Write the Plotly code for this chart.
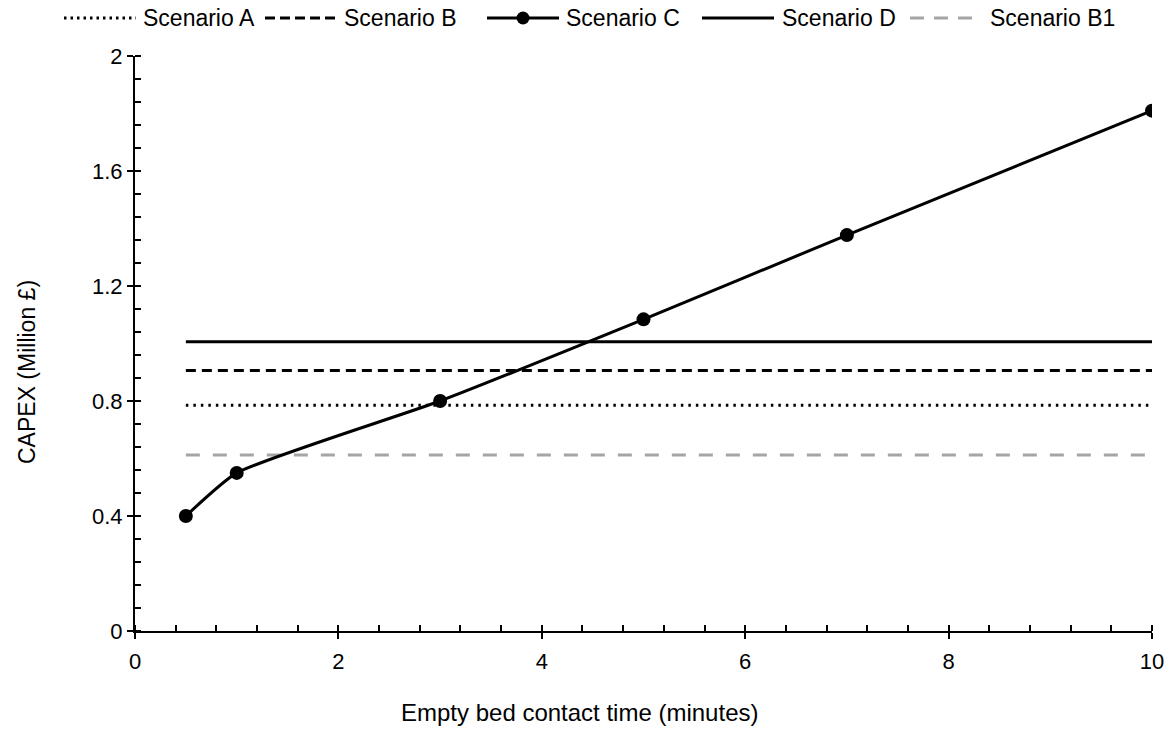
import plotly.graph_objects as go

# ---- data ----
ebct_c = [0.5, 1, 3, 5, 7, 10]
capex_c = [0.40, 0.55, 0.80, 1.084, 1.377, 1.81]
flat_x = [0.5, 10]
capex_a = 0.785
capex_b = 0.906
capex_d = 1.006
capex_b1 = 0.612

x_ticks = [0, 2, 4, 6, 8, 10]
y_ticks = [0, 0.4, 0.8, 1.2, 1.6, 2]
y_tick_text = ["0", "0.4", "0.8", "1.2", "1.6", "2"]

FONT = "Liberation Sans, Arial, sans-serif"
W, H = 1175, 737
L, R, T, B = 135, 23, 56, 106
PW, PH = W - L - R, H - T - B

def px(xp):
    return (xp - L) / PW

def py(yp):
    return (H - B - yp) / PH

fig = go.Figure()

fig.add_trace(go.Scatter(x=flat_x, y=[capex_b1] * 2, mode="lines", name="Scenario B1",
                         line=dict(color="#A5A5A5", width=3, dash="14px,13px"), showlegend=False))
fig.add_trace(go.Scatter(x=flat_x, y=[capex_a] * 2, mode="lines", name="Scenario A",
                         line=dict(color="black", width=3, dash="2.5px,5px"), showlegend=False))
fig.add_trace(go.Scatter(x=flat_x, y=[capex_b] * 2, mode="lines", name="Scenario B",
                         line=dict(color="black", width=3, dash="10px,6px"), showlegend=False))
fig.add_trace(go.Scatter(x=flat_x, y=[capex_d] * 2, mode="lines", name="Scenario D",
                         line=dict(color="black", width=3), showlegend=False))
fig.add_trace(go.Scatter(x=ebct_c, y=capex_c, mode="lines+markers", name="Scenario C",
                         line=dict(color="black", width=3, shape="spline", smoothing=0.5),
                         marker=dict(color="black", size=14), showlegend=False))

# dummy trace for overlay axes (inward major ticks)
fig.add_trace(go.Scatter(x=[0], y=[0], xaxis="x2", yaxis="y2", mode="markers",
                         marker=dict(opacity=0), showlegend=False, hoverinfo="skip"))

axis_common = dict(showgrid=False, zeroline=False, showline=True, linecolor="black",
                   linewidth=2, ticks="outside", ticklen=6, tickwidth=2, tickcolor="black",
                   tickfont=dict(family=FONT, size=22, color="black"))

fig.update_layout(
    width=W, height=H,
    margin=dict(l=L, r=R, t=T, b=B),
    paper_bgcolor="white", plot_bgcolor="white",
    font=dict(family=FONT, size=22, color="black"),
    xaxis=dict(range=[0, 10], tickvals=x_ticks, ticktext=[str(v) for v in x_ticks],
               minor=dict(ticks="inside", dtick=0.4, tick0=0, ticklen=6, tickwidth=1.5,
                          tickcolor="black"),
               ticklabelstandoff=4, **axis_common),
    yaxis=dict(range=[0, 2], tickvals=y_ticks, ticktext=y_tick_text,
               minor=dict(ticks="inside", dtick=0.08, tick0=0, ticklen=6, tickwidth=1.5,
                          tickcolor="black"),
               ticklabelstandoff=0, **axis_common),
    xaxis2=dict(range=[0, 10], overlaying="x", anchor="y", tickvals=x_ticks, ticks="inside",
                ticklen=6, tickwidth=2, tickcolor="black", showticklabels=False,
                showgrid=False, zeroline=False, showline=False),
    yaxis2=dict(range=[0, 2], overlaying="y", anchor="x", tickvals=y_ticks, ticks="inside",
                ticklen=6, tickwidth=2, tickcolor="black", showticklabels=False,
                showgrid=False, zeroline=False, showline=False),
    showlegend=False,
)

# axis titles
fig.add_annotation(text="Empty bed contact time (minutes)", xref="paper", yref="paper",
                   x=px(579), y=py(712), showarrow=False, xanchor="center", yanchor="middle",
                   font=dict(family=FONT, size=24, color="black"))
fig.add_annotation(text="CAPEX (Million £)", xref="paper", yref="paper",
                   x=px(27), y=py(372), showarrow=False, textangle=-90,
                   xanchor="center", yanchor="middle",
                   font=dict(family=FONT, size=23, color="black"))

# custom legend
LEG_Y = 18
leg_y = py(LEG_Y)
legend_items = [
    ("Scenario A", 64, 141, dict(color="black", width=3, dash="2.5px,4px")),
    ("Scenario B", 265, 342, dict(color="black", width=3, dash="10px,5px")),
    ("Scenario C", 487, 564, dict(color="black", width=3)),
    ("Scenario D", 702, 780, dict(color="black", width=3)),
    ("Scenario B1", 910, 988, dict(color="#A5A5A5", width=3, dash="14px,10px")),
]
sym_len = 72
for name, x0, xt, ln in legend_items:
    fig.add_shape(type="line", xref="paper", yref="paper", x0=px(x0), x1=px(x0 + sym_len),
                  y0=leg_y, y1=leg_y, line=ln)
    fig.add_annotation(text=name, xref="paper", yref="paper", x=px(xt), y=leg_y,
                       showarrow=False, xanchor="left", yanchor="middle",
                       font=dict(family=FONT, size=23, color="black"))
    if name == "Scenario C":
        cx = x0 + sym_len / 2
        fig.add_shape(type="circle", xref="paper", yref="paper",
                      x0=px(cx - 6.5), x1=px(cx + 6.5), y0=py(LEG_Y + 6.5), y1=py(LEG_Y - 6.5),
                      fillcolor="black", line=dict(color="black", width=0))

fig.write_html("out.html", config={"displayModeBar": False},
               post_script="document.body.style.margin='0';document.body.style.padding='0';")
